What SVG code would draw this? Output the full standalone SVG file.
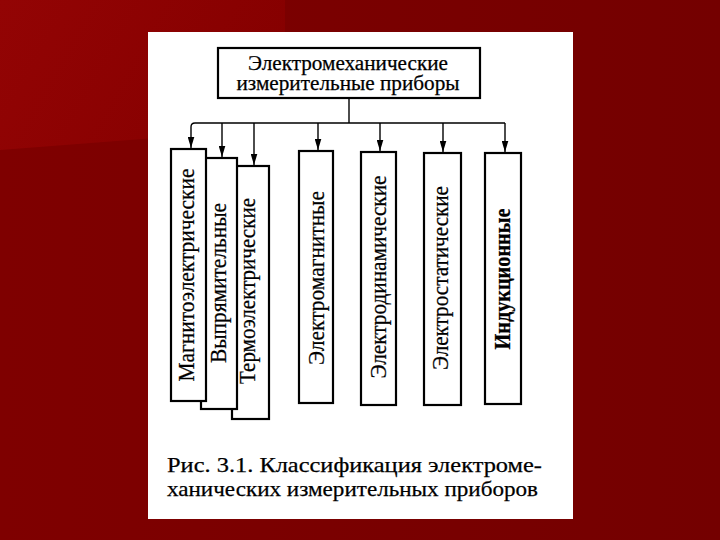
<svg xmlns="http://www.w3.org/2000/svg" width="720" height="540" viewBox="0 0 720 540">
<defs>
<linearGradient id="bg" x1="0" y1="0" x2="1" y2="0">
<stop offset="0" stop-color="#7f0000"/>
<stop offset="1" stop-color="#740000"/>
</linearGradient>
<linearGradient id="hl" x1="0" y1="0" x2="1" y2="0.3">
<stop offset="0" stop-color="#930404"/>
<stop offset="1" stop-color="#860000"/>
</linearGradient>
<marker id="arr" markerUnits="userSpaceOnUse" markerWidth="11" markerHeight="7" refX="10" refY="3" orient="auto" viewBox="0 0 10 6">
<path d="M0,0 L10,3 L0,6 Z" fill="#000"/>
</marker>
</defs>
<style>
.box{fill:#fff;stroke:#000;stroke-width:2.2}
.ln{fill:none;stroke:#000;stroke-width:1.4}
.t{font-family:"Liberation Serif","Times New Roman",serif;fill:#000;stroke:#000;stroke-width:0.25}
.v{font-size:23px;text-anchor:middle}
</style>
<rect x="0" y="0" width="720" height="540" fill="url(#bg)"/>
<polygon points="0,0 285,0 285,128 0,150" fill="url(#hl)"/>
<rect x="148" y="32" width="425" height="487" fill="#fff"/>

<g id="connectors">
<line class="ln" x1="349" y1="98" x2="349" y2="123"/>
<path class="ln" d="M505,123 L195,123 Q191,123 191,127 L191,148" marker-end="url(#arr)"/>
<line class="ln" x1="222" y1="123" x2="222" y2="157" marker-end="url(#arr)"/>
<line class="ln" x1="254" y1="123" x2="254" y2="165" marker-end="url(#arr)"/>
<line class="ln" x1="318" y1="123" x2="318" y2="150" marker-end="url(#arr)"/>
<line class="ln" x1="380" y1="123" x2="380" y2="151" marker-end="url(#arr)"/>
<line class="ln" x1="443" y1="123" x2="443" y2="152" marker-end="url(#arr)"/>
<line class="ln" x1="505" y1="123" x2="505" y2="152" marker-end="url(#arr)"/>
</g>

<g id="node-root">
<rect class="box" x="218" y="48" width="262" height="50"/>
<text class="t" x="348" y="70" font-size="20" text-anchor="middle" textLength="200" lengthAdjust="spacingAndGlyphs">Электромеханические</text>
<text class="t" x="348" y="90" font-size="20" text-anchor="middle" textLength="223" lengthAdjust="spacingAndGlyphs">измерительные приборы</text>
</g>

<g id="node-thermo">
<rect class="box" x="232" y="166" width="37" height="253"/>
<text class="t v" transform="translate(255,291) rotate(-90)" textLength="186" lengthAdjust="spacingAndGlyphs">Термоэлектрические</text>
</g>
<g id="node-rect">
<rect class="box" x="201" y="158" width="36" height="251"/>
<text class="t v" transform="translate(226,283) rotate(-90)" textLength="160" lengthAdjust="spacingAndGlyphs">Выпрямительные</text>
</g>
<g id="node-magneto">
<rect class="box" x="171" y="149" width="35" height="252"/>
<text class="t v" transform="translate(194,275) rotate(-90)" textLength="213" lengthAdjust="spacingAndGlyphs">Магнитоэлектрические</text>
</g>
<g id="node-electromag">
<rect class="box" x="299" y="151" width="34" height="252"/>
<text class="t v" transform="translate(324,278) rotate(-90)" textLength="174" lengthAdjust="spacingAndGlyphs">Электромагнитные</text>
</g>
<g id="node-electrodyn">
<rect class="box" x="361" y="152" width="35" height="253"/>
<text class="t v" transform="translate(386,277) rotate(-90)" textLength="203" lengthAdjust="spacingAndGlyphs">Электродинамические</text>
</g>
<g id="node-electrostat">
<rect class="box" x="424" y="153" width="37" height="252"/>
<text class="t v" transform="translate(448,278) rotate(-90)" textLength="184" lengthAdjust="spacingAndGlyphs">Электростатические</text>
</g>
<g id="node-induction">
<rect class="box" x="485" y="153" width="36" height="251"/>
<text class="t v" transform="translate(510,279) rotate(-90)" font-weight="bold" textLength="141" lengthAdjust="spacingAndGlyphs">Индукционные</text>
</g>

<g id="caption">
<text class="t" x="167" y="472" font-size="22" textLength="375" lengthAdjust="spacingAndGlyphs">Рис. 3.1. Классификация электроме-</text>
<text class="t" x="167" y="496" font-size="22" textLength="371" lengthAdjust="spacingAndGlyphs">ханических измерительных приборов</text>
</g>
</svg>
